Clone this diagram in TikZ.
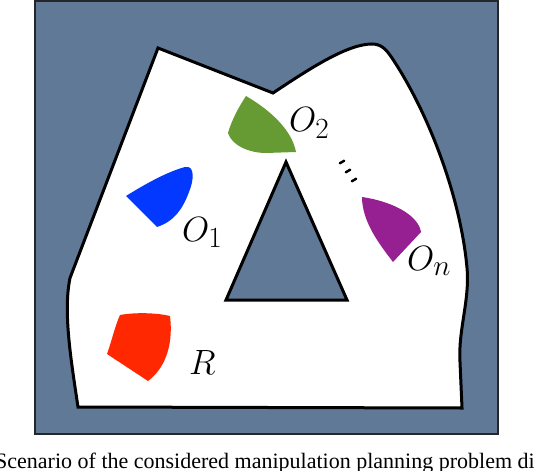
\documentclass[tikz,border=0pt]{standalone}
\usepackage{amsmath}
\usepackage{fontspec}
\usepackage{xcolor}
\usepackage{tikz}
\usetikzlibrary{calc}
\newfontfamily\capfont{Liberation Serif}
\definecolor{slate}{RGB}{96,121,151}
\definecolor{objblue}{RGB}{2,56,255}
\definecolor{objgreen}{RGB}{102,155,52}
\definecolor{objpurple}{RGB}{150,32,145}
\definecolor{robred}{RGB}{255,40,0}
\newcommand{\biglbl}[1]{\scalebox{1.41}{$#1$}}

\begin{document}
\begin{tikzpicture}[x=1pt, y=-1pt,
    wall/.style={line width=3pt, line join=miter},
    lbl/.style={inner sep=0pt, anchor=base west, font=\Huge}]
          \clip (0,0) rectangle (534,470);
          % workspace frame
          \draw[line width=2pt, draw=black!85, fill=slate] (35,1.5) rectangle (498,433.5);
          % free space
          \draw[wall, fill=white] (158,48) -- (273,93)
            .. controls (312,67) and (348,44) .. (372,44)
            .. controls (381,44) and (386,49) .. (392,58)
            .. controls (430,115) and (461,200) .. (467,268)
            .. controls (470,300) and (458,330) .. (460,362)
            -- (462,408) -- (78,407)
            .. controls (71,360) and (63,312) .. (70,278) -- cycle;
          % obstacle
          \draw[wall, fill=slate] (286,162) -- (347,300) -- (226,300) -- cycle;
          % Objects
          \fill[objblue] (126,196) .. controls (150,181) and (170,171) .. (185,167)
            .. controls (195,165) and (194,180) .. (189,192)
            .. controls (183,208) and (175,221) .. (157,227) -- cycle;
          \fill[objgreen] (246,96) .. controls (238,108) and (231,122) .. (228,133)
            .. controls (232,146) and (250,153) .. (266,153) -- (296,152)
            .. controls (292,130) and (270,110) .. (246,96) -- cycle;
          \fill[objpurple] (362,197) .. controls (390,201) and (418,214) .. (421,232)
            -- (393,262) .. controls (380,245) and (362,222) .. (362,197) -- cycle;
          % Robot
          \fill[robred] (120,315) .. controls (136,312) and (158,313) .. (170,316)
            .. controls (173,340) and (168,366) .. (148,381)
            -- (107,354) .. controls (112,340) and (115,326) .. (120,315) -- cycle;
          \foreach \x/\y in {342/162, 348/171, 354/180}
            \draw[line width=2.4pt, line cap=round] (\x-2.2,\y+1.3) -- (\x+2.2,\y-1.3);
          \node[lbl] (o1) at (182,241) {\biglbl{O_1}};
          \node[lbl] (o2) at (289,132) {\biglbl{O_2}};
          \node[lbl] (on) at (407,270) {\biglbl{O_n}};
          \node[lbl] (r) at (189,374) {\biglbl{R}};
          \node[inner sep=0pt, anchor=base west, font=\capfont\fontsize{22}{26}\selectfont] (cap) at (-5,468)
            {Scenario of the considered manipulation planning problem di};
        \end{tikzpicture}
\end{document}
